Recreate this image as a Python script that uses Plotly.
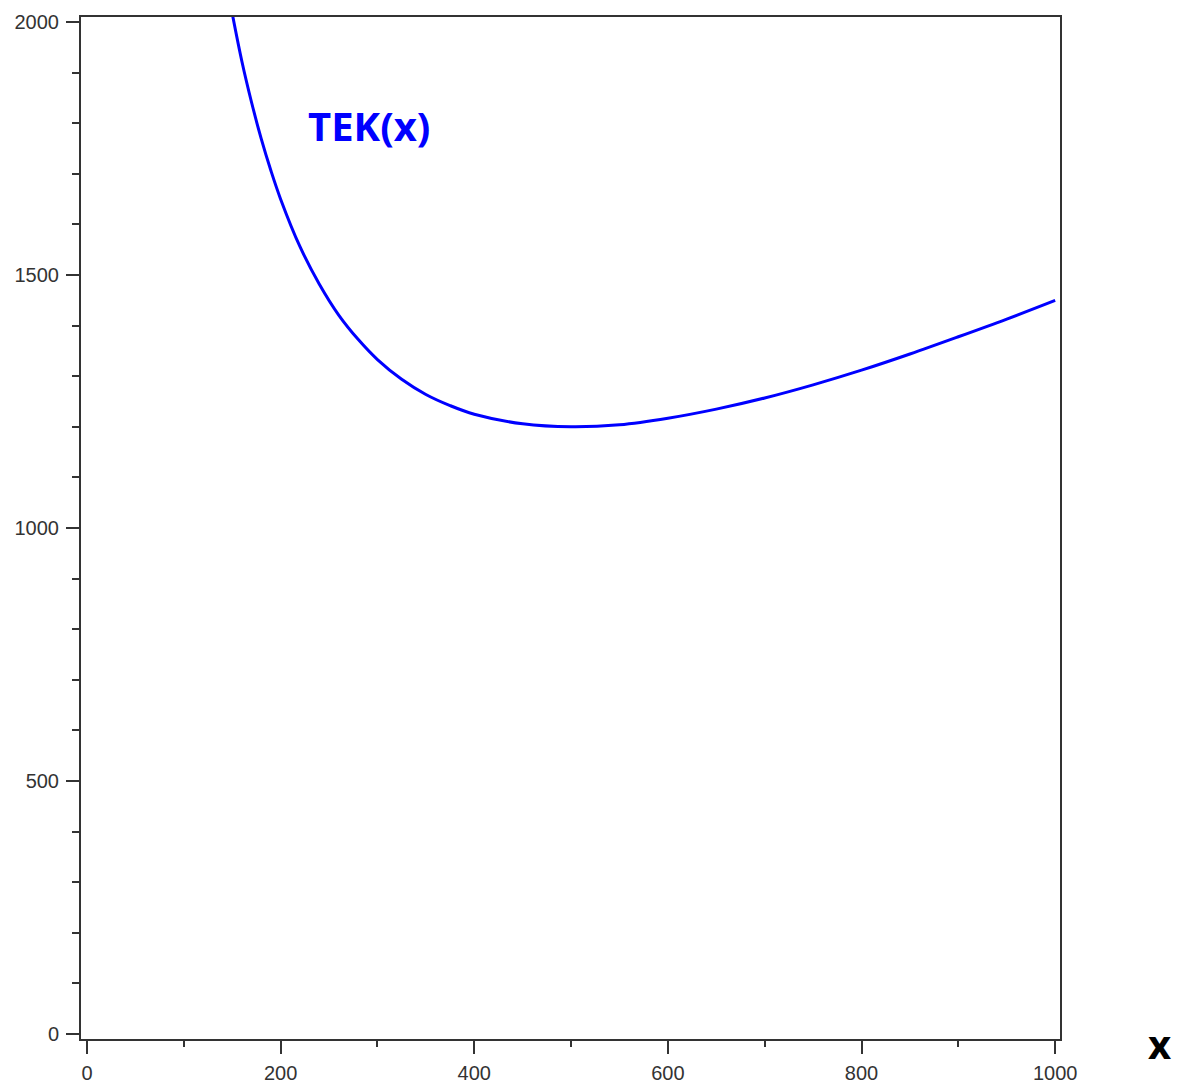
import plotly.graph_objects as go

# values
x_vals = [150, 160, 170, 180, 190, 200, 220, 240, 260, 280, 300, 325, 350, 375,
          400, 450, 500, 550, 600, 650, 700, 750, 800, 850, 900, 950, 1000]
tek_vals = [2017, 1922, 1841, 1769, 1706, 1650, 1556, 1482, 1421, 1373, 1333, 1294,
            1264, 1242, 1225, 1206, 1200, 1204, 1217, 1235, 1257, 1283, 1312, 1344,
            1378, 1413, 1450]
x_ticks = [0, 200, 400, 600, 800, 1000]
y_ticks = [0, 500, 1000, 1500, 2000]

fig = go.Figure()
fig.add_trace(go.Scatter(
    x=x_vals, y=tek_vals, mode="lines",
    line=dict(color="#0000FF", width=3, shape="spline"),
    hoverinfo="skip", showlegend=False,
))

axis_common = dict(
    showline=True, linecolor="#333333", linewidth=2, mirror=True,
    showgrid=False, zeroline=False, automargin=False,
    ticks="outside", ticklen=13, tickwidth=2, tickcolor="#333333",
    tickfont=dict(family="Liberation Sans", size=20, color="#333333"),
)

fig.update_layout(
    width=1177, height=1078,
    margin=dict(l=73, r=125, t=9, b=47),
    paper_bgcolor="white", plot_bgcolor="white",
    xaxis=dict(range=[-6.2, 1005], tickvals=x_ticks,
               minor=dict(dtick=100, tick0=0, ticks="outside", ticklen=6,
                          tickwidth=2, tickcolor="#333333"),
               ticklabelstandoff=2, **axis_common),
    yaxis=dict(range=[-9.9, 2010], tickvals=y_ticks,
               minor=dict(dtick=100, tick0=0, ticks="outside", ticklen=7,
                          tickwidth=2, tickcolor="#333333"),
               ticklabelstandoff=3, **axis_common),
    annotations=[
        dict(text="<b>TEK(x)</b>", x=291, y=1796, xref="x", yref="y",
             showarrow=False, xanchor="center", yanchor="middle",
             font=dict(family="Open Sans", size=40, color="#0000FF")),
        dict(text="<b>x</b>", x=1.102, y=-0.004, xref="paper", yref="paper",
             showarrow=False, xanchor="center", yanchor="middle",
             font=dict(family="Open Sans", size=40, color="black")),
    ],
)

fig.write_html("out.html")
